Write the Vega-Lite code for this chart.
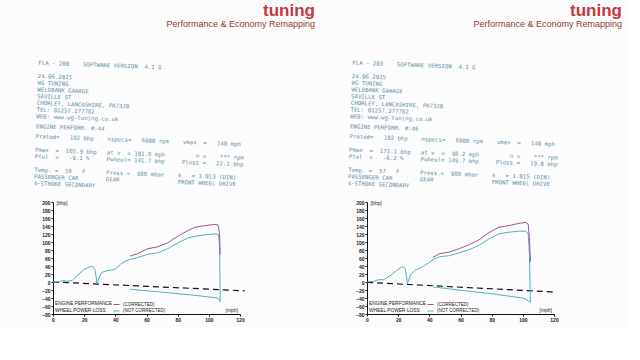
{
  "$schema": "https://vega.github.io/schema/vega-lite/v6.json",
  "background": "#fcfcfc",
  "padding": {"left": 33, "top": 1, "right": 5, "bottom": 5},
  "columns": 2,
  "spacing": {"row": 166, "column": 52},
  "bounds": "flush",
  "align": "each",
  "datasets": {
    "dyno": [
      {"s":"L","series":"(NOT CORRECTED)","mph":0,"bhp":0},
      {"s":"L","series":"(NOT CORRECTED)","mph":4.7,"bhp":1.6},
      {"s":"L","series":"(NOT CORRECTED)","mph":6.9,"bhp":4},
      {"s":"L","series":"(NOT CORRECTED)","mph":9,"bhp":1.6},
      {"s":"L","series":"(NOT CORRECTED)","mph":12.3,"bhp":4},
      {"s":"L","series":"(NOT CORRECTED)","mph":15.5,"bhp":16},
      {"s":"L","series":"(NOT CORRECTED)","mph":19.8,"bhp":31},
      {"s":"L","series":"(NOT CORRECTED)","mph":24.1,"bhp":39},
      {"s":"L","series":"(NOT CORRECTED)","mph":25.8,"bhp":38},
      {"s":"L","series":"(NOT CORRECTED)","mph":26.9,"bhp":31},
      {"s":"L","series":"(NOT CORRECTED)","mph":27.7,"bhp":12},
      {"s":"L","series":"(NOT CORRECTED)","mph":28.2,"bhp":-3},
      {"s":"L","series":"(NOT CORRECTED)","mph":28.8,"bhp":1.6},
      {"s":"L","series":"(NOT CORRECTED)","mph":29.9,"bhp":14.6},
      {"s":"L","series":"(NOT CORRECTED)","mph":31.6,"bhp":24.4},
      {"s":"L","series":"(NOT CORRECTED)","mph":34.8,"bhp":28.5},
      {"s":"L","series":"(NOT CORRECTED)","mph":38.1,"bhp":30},
      {"s":"L","series":"(NOT CORRECTED)","mph":40.2,"bhp":32.5},
      {"s":"L","series":"(NOT CORRECTED)","mph":43.4,"bhp":44.7},
      {"s":"L","series":"(NOT CORRECTED)","mph":46.7,"bhp":52.8},
      {"s":"L","series":"(NOT CORRECTED)","mph":49.9,"bhp":57},
      {"s":"L","series":"(NOT CORRECTED)","mph":54.2,"bhp":61},
      {"s":"L","series":"(NOT CORRECTED)","mph":60.6,"bhp":69},
      {"s":"L","series":"(NOT CORRECTED)","mph":67.1,"bhp":73},
      {"s":"L","series":"(NOT CORRECTED)","mph":73.5,"bhp":83},
      {"s":"L","series":"(NOT CORRECTED)","mph":80,"bhp":97.6},
      {"s":"L","series":"(NOT CORRECTED)","mph":86.5,"bhp":110},
      {"s":"L","series":"(NOT CORRECTED)","mph":92.9,"bhp":115.4},
      {"s":"L","series":"(NOT CORRECTED)","mph":99.4,"bhp":118.7},
      {"s":"L","series":"(NOT CORRECTED)","mph":104.7,"bhp":120.3},
      {"s":"L","series":"(NOT CORRECTED)","mph":106.2,"bhp":118},
      {"s":"L","series":"(NOT CORRECTED)","mph":106.9,"bhp":89},
      {"s":"L","series":"(NOT CORRECTED)","mph":107.3,"bhp":-49},
      {"s":"L","series":"(CORRECTED)","mph":49.5,"bhp":65},
      {"s":"L","series":"(CORRECTED)","mph":54.2,"bhp":70.7},
      {"s":"L","series":"(CORRECTED)","mph":60.6,"bhp":83},
      {"s":"L","series":"(CORRECTED)","mph":67.1,"bhp":88},
      {"s":"L","series":"(CORRECTED)","mph":73.5,"bhp":97.6},
      {"s":"L","series":"(CORRECTED)","mph":80,"bhp":114},
      {"s":"L","series":"(CORRECTED)","mph":86.5,"bhp":128.5},
      {"s":"L","series":"(CORRECTED)","mph":90.8,"bhp":136.6},
      {"s":"L","series":"(CORRECTED)","mph":97.2,"bhp":140.7},
      {"s":"L","series":"(CORRECTED)","mph":103.7,"bhp":144},
      {"s":"L","series":"(CORRECTED)","mph":105.8,"bhp":143},
      {"s":"L","series":"(CORRECTED)","mph":106.9,"bhp":122},
      {"s":"L","series":"(CORRECTED)","mph":107.3,"bhp":69},
      {"s":"L","series":"LOSS","mph":49.5,"bhp":-18},
      {"s":"L","series":"LOSS","mph":71.4,"bhp":-26},
      {"s":"L","series":"LOSS","mph":92.9,"bhp":-34},
      {"s":"L","series":"LOSS","mph":105.8,"bhp":-40.5},
      {"s":"L","series":"LOSS","mph":107.3,"bhp":-49},
      {"s":"L","series":"BASE","mph":0,"bhp":0},
      {"s":"L","series":"BASE","mph":123,"bhp":-22},
      {"s":"R","series":"(NOT CORRECTED)","mph":0,"bhp":0},
      {"s":"R","series":"(NOT CORRECTED)","mph":4.2,"bhp":1.6},
      {"s":"R","series":"(NOT CORRECTED)","mph":7.4,"bhp":5.7},
      {"s":"R","series":"(NOT CORRECTED)","mph":10.6,"bhp":5.7},
      {"s":"R","series":"(NOT CORRECTED)","mph":14.8,"bhp":15.6},
      {"s":"R","series":"(NOT CORRECTED)","mph":19,"bhp":28.7},
      {"s":"R","series":"(NOT CORRECTED)","mph":22.2,"bhp":37},
      {"s":"R","series":"(NOT CORRECTED)","mph":23.3,"bhp":38.5},
      {"s":"R","series":"(NOT CORRECTED)","mph":24.4,"bhp":34},
      {"s":"R","series":"(NOT CORRECTED)","mph":25.4,"bhp":14},
      {"s":"R","series":"(NOT CORRECTED)","mph":25.8,"bhp":-4},
      {"s":"R","series":"(NOT CORRECTED)","mph":26.5,"bhp":1.6},
      {"s":"R","series":"(NOT CORRECTED)","mph":28,"bhp":18},
      {"s":"R","series":"(NOT CORRECTED)","mph":30.7,"bhp":28.7},
      {"s":"R","series":"(NOT CORRECTED)","mph":35,"bhp":37},
      {"s":"R","series":"(NOT CORRECTED)","mph":39.2,"bhp":46.7},
      {"s":"R","series":"(NOT CORRECTED)","mph":42.4,"bhp":56.5},
      {"s":"R","series":"(NOT CORRECTED)","mph":46.6,"bhp":63},
      {"s":"R","series":"(NOT CORRECTED)","mph":53,"bhp":66},
      {"s":"R","series":"(NOT CORRECTED)","mph":59.3,"bhp":73},
      {"s":"R","series":"(NOT CORRECTED)","mph":65.7,"bhp":81},
      {"s":"R","series":"(NOT CORRECTED)","mph":72,"bhp":92},
      {"s":"R","series":"(NOT CORRECTED)","mph":78.4,"bhp":108},
      {"s":"R","series":"(NOT CORRECTED)","mph":84.7,"bhp":120.5},
      {"s":"R","series":"(NOT CORRECTED)","mph":91.1,"bhp":124.6},
      {"s":"R","series":"(NOT CORRECTED)","mph":97.5,"bhp":127},
      {"s":"R","series":"(NOT CORRECTED)","mph":101.7,"bhp":127},
      {"s":"R","series":"(NOT CORRECTED)","mph":103.4,"bhp":122},
      {"s":"R","series":"(NOT CORRECTED)","mph":104.2,"bhp":71},
      {"s":"R","series":"(NOT CORRECTED)","mph":104.9,"bhp":-50},
      {"s":"R","series":"(CORRECTED)","mph":42.4,"bhp":61.5},
      {"s":"R","series":"(CORRECTED)","mph":46.6,"bhp":71},
      {"s":"R","series":"(CORRECTED)","mph":53,"bhp":75},
      {"s":"R","series":"(CORRECTED)","mph":59.3,"bhp":83.6},
      {"s":"R","series":"(CORRECTED)","mph":65.7,"bhp":93.4},
      {"s":"R","series":"(CORRECTED)","mph":72,"bhp":105.7},
      {"s":"R","series":"(CORRECTED)","mph":78.4,"bhp":123.8},
      {"s":"R","series":"(CORRECTED)","mph":84.7,"bhp":137},
      {"s":"R","series":"(CORRECTED)","mph":91.1,"bhp":141},
      {"s":"R","series":"(CORRECTED)","mph":97.5,"bhp":146.7},
      {"s":"R","series":"(CORRECTED)","mph":102.1,"bhp":149},
      {"s":"R","series":"(CORRECTED)","mph":103.4,"bhp":145},
      {"s":"R","series":"(CORRECTED)","mph":104.2,"bhp":112},
      {"s":"R","series":"(CORRECTED)","mph":104.9,"bhp":51},
      {"s":"R","series":"LOSS","mph":42.4,"bhp":-12.3},
      {"s":"R","series":"LOSS","mph":60,"bhp":-20.5},
      {"s":"R","series":"LOSS","mph":80,"bhp":-29.5},
      {"s":"R","series":"LOSS","mph":100,"bhp":-40},
      {"s":"R","series":"LOSS","mph":104.9,"bhp":-50},
      {"s":"R","series":"BASE","mph":0,"bhp":-1},
      {"s":"R","series":"BASE","mph":120.8,"bhp":-25}
    ]
  },
  "concat": [
    {
      "width": 262, "height": 1,
      "data": {"values": [{"t": ""}]},
      "mark": {"type": "text"},
      "encoding": {"text": {"field": "t"}},
      "title": {"text": "tuning", "subtitle": "Performance & Economy Remapping", "anchor": "end", "frame": "group", "font": "Liberation Sans", "fontSize": 17, "fontWeight": "bold", "color": "#c6363c", "subtitleFont": "Liberation Sans", "subtitleFontSize": 9, "subtitleColor": "#8e3a33", "subtitlePadding": 0, "offset": 0}
    },
    {
      "width": 255, "height": 1,
      "data": {"values": [{"t": ""}]},
      "mark": {"type": "text"},
      "encoding": {"text": {"field": "t"}},
      "title": {"text": "tuning", "subtitle": "Performance & Economy Remapping", "anchor": "end", "frame": "group", "font": "Liberation Sans", "fontSize": 17, "fontWeight": "bold", "color": "#c6363c", "subtitleFont": "Liberation Sans", "subtitleFontSize": 9, "subtitleColor": "#8e3a33", "subtitlePadding": 0, "offset": 0}
    },
    {
      "width": 187, "height": 112,
      "data": {"name": "dyno"},
      "transform": [{"filter": "datum.s == 'L'"}],
      "title": {
        "text": [
          "FLA\u00a0-\u00a0200\u00a0\u00a0\u00a0\u00a0SOFTWARE\u00a0VERSION\u00a0\u00a04.1\u00a0G",
          "\u2800", "\u2800", "\u2800",
          "24.06.2015", "\u2800",
          "WG\u00a0TUNING", "\u2800",
          "WELDBANK\u00a0GARAGE", "\u2800",
          "SAVILLE\u00a0ST", "\u2800",
          "CHORLEY,\u00a0LANCASHIRE,\u00a0PR73JB", "\u2800",
          "TEL:\u00a001257.277782", "\u2800",
          "WEB:\u00a0www.wg-tuning.co.uk", "\u2800", "\u2800",
          "ENGINE\u00a0PERFORM.\u00a0#:44", "\u2800", "\u2800",
          "Prated=\u00a0\u00a0\u00a0182\u00a0bhp\u00a0\u00a0\u00a0\u00a0nspecs=\u00a0\u00a0\u00a06000\u00a0rpm\u00a0\u00a0\u00a0\u00a0vmax\u00a0\u00a0=\u00a0\u00a0\u00a0140\u00a0mph",
          "\u2800", "\u2800", "\u2800",
          "Pmax\u00a0\u00a0=\u00a0\u00a0165.9\u00a0bhp\u00a0\u00a0\u00a0at\u00a0v\u00a0\u00a0=\u00a0101.6\u00a0mph\u00a0\u00a0\u00a0\u00a0\u00a0\u00a0\u00a0\u00a0\u00a0n\u00a0=\u00a0\u00a0\u00a0\u00a0***\u00a0rpm",
          "\u2800",
          "Ptol\u00a0\u00a0=\u00a0\u00a0\u00a0-9.1\u00a0%\u00a0\u00a0\u00a0\u00a0\u00a0Pwheel=\u00a0141.7\u00a0bhp\u00a0\u00a0\u00a0\u00a0\u00a0Ploss\u00a0=\u00a0\u00a0\u00a022.1\u00a0bhp",
          "\u2800", "\u2800", "\u2800",
          "Temp.\u00a0=\u00a0\u00a056\u00a0\u00a0\u00a0F\u00a0\u00a0\u00a0\u00a0\u00a0\u00a0Press.=\u00a0\u00a0988\u00a0mbar\u00a0\u00a0\u00a0\u00a0k\u00a0\u00a0\u00a0=\u00a01.013\u00a0(DIN)",
          "\u2800",
          "PASSENGER\u00a0CAR\u00a0\u00a0\u00a0\u00a0\u00a0\u00a0\u00a0\u00a0GEAR\u00a0\u00a0\u00a0\u00a0\u00a0\u00a0\u00a0\u00a0\u00a0\u00a0\u00a0\u00a0\u00a0\u00a0\u00a0\u00a0\u00a0FRONT\u00a0WHEEL\u00a0DRIVE",
          "\u2800",
          "4-STROKE\u00a0SECONDARY"
        ],
        "anchor": "start", "frame": "bounds", "font": "DejaVu Sans Mono", "fontSize": 5.7, "fontWeight": "normal", "color": "#5b8da3", "lineHeight": 3.35, "angle": 2.2, "offset": 6, "dx": -3
      },
      "encoding": {
        "x": {"field": "mph", "type": "quantitative", "scale": {"domain": [0, 120]},
          "axis": {"values": [0, 20, 40, 60, 80, 100, 120], "labelFlush": false, "labelFontSize": 5, "labelFontWeight": "bold", "labelColor": "#222", "tickSize": 2, "labelPadding": 1, "domainColor": "#111", "tickColor": "#111", "grid": false, "title": "[mph]", "titleX": 172, "titleY": -2, "titleAlign": "left", "titleBaseline": "bottom", "titleFontSize": 5, "titleFontWeight": "normal", "titleColor": "#222"}},
        "y": {"field": "bhp", "type": "quantitative", "scale": {"domain": [-80, 200]},
          "axis": {"values": [-80, -60, -40, -20, 0, 20, 40, 60, 80, 100, 120, 140, 160, 180, 200], "labelFontSize": 5, "labelFontWeight": "bold", "labelColor": "#222", "tickSize": 2, "labelPadding": 1, "domainColor": "#111", "tickColor": "#111", "grid": false, "title": "[bhp]", "titleAngle": 0, "titleX": 3, "titleY": 0, "titleAlign": "left", "titleBaseline": "middle", "titleFontSize": 5, "titleFontWeight": "normal", "titleColor": "#222"}}
      },
      "layer": [
        {"transform": [{"filter": "datum.series == 'BASE'"}], "mark": {"type": "line", "color": "#111", "strokeDash": [6, 4], "strokeWidth": 1.2}},
        {"transform": [{"filter": "datum.series == 'LOSS'"}], "mark": {"type": "line", "color": "#4fb3bb", "strokeWidth": 1}},
        {"transform": [{"filter": "datum.series != 'BASE' && datum.series != 'LOSS'"}], "mark": {"type": "line", "strokeWidth": 1},
          "encoding": {"color": {"field": "series", "type": "nominal", "scale": {"domain": ["(CORRECTED)", "(NOT CORRECTED)"], "range": ["#a3528f", "#4fb3bb"]},
            "legend": {"orient": "none", "legendX": 2, "legendY": 99, "title": ["ENGINE PERFORMANCE", "WHEEL POWER-LOSS"], "titleOrient": "left", "titleFontSize": 4.8, "titleFontWeight": "normal", "titleColor": "#222", "titleLineHeight": 7, "titlePadding": 0, "labelFontSize": 4.5, "labelColor": "#222", "symbolType": "stroke", "symbolSize": 36, "symbolStrokeWidth": 1, "rowPadding": 0.5, "labelOffset": 3, "padding": 0}}}}
      ]
    },
    {
      "width": 187, "height": 112,
      "data": {"name": "dyno"},
      "transform": [{"filter": "datum.s == 'R'"}],
      "title": {
        "text": [
          "FLA\u00a0-\u00a0203\u00a0\u00a0\u00a0\u00a0SOFTWARE\u00a0VERSION\u00a0\u00a04.1\u00a0G",
          "\u2800", "\u2800", "\u2800",
          "24.06.2015", "\u2800",
          "WG\u00a0TUNING", "\u2800",
          "WELDBANK\u00a0GARAGE", "\u2800",
          "SAVILLE\u00a0ST", "\u2800",
          "CHORLEY,\u00a0LANCASHIRE,\u00a0PR73JB", "\u2800",
          "TEL:\u00a001257.277782", "\u2800",
          "WEB:\u00a0www.wg-tuning.co.uk", "\u2800", "\u2800",
          "ENGINE\u00a0PERFORM.\u00a0#:46", "\u2800", "\u2800",
          "Prated=\u00a0\u00a0\u00a0182\u00a0bhp\u00a0\u00a0\u00a0\u00a0nspecs=\u00a0\u00a0\u00a06000\u00a0rpm\u00a0\u00a0\u00a0\u00a0vmax\u00a0\u00a0=\u00a0\u00a0\u00a0140\u00a0mph",
          "\u2800", "\u2800", "\u2800",
          "Pmax\u00a0\u00a0=\u00a0\u00a0171.1\u00a0bhp\u00a0\u00a0\u00a0at\u00a0v\u00a0\u00a0=\u00a0\u00a098.2\u00a0mph\u00a0\u00a0\u00a0\u00a0\u00a0\u00a0\u00a0\u00a0\u00a0n\u00a0=\u00a0\u00a0\u00a0\u00a0***\u00a0rpm",
          "\u2800",
          "Ptol\u00a0\u00a0=\u00a0\u00a0\u00a0-6.2\u00a0%\u00a0\u00a0\u00a0\u00a0\u00a0Pwheel=\u00a0149.7\u00a0bhp\u00a0\u00a0\u00a0\u00a0\u00a0Ploss\u00a0=\u00a0\u00a0\u00a019.0\u00a0bhp",
          "\u2800", "\u2800", "\u2800",
          "Temp.\u00a0=\u00a0\u00a057\u00a0\u00a0\u00a0F\u00a0\u00a0\u00a0\u00a0\u00a0\u00a0Press.=\u00a0\u00a0988\u00a0mbar\u00a0\u00a0\u00a0\u00a0k\u00a0\u00a0\u00a0=\u00a01.015\u00a0(DIN)",
          "\u2800",
          "PASSENGER\u00a0CAR\u00a0\u00a0\u00a0\u00a0\u00a0\u00a0\u00a0\u00a0GEAR\u00a0\u00a0\u00a0\u00a0\u00a0\u00a0\u00a0\u00a0\u00a0\u00a0\u00a0\u00a0\u00a0\u00a0\u00a0\u00a0\u00a0FRONT\u00a0WHEEL\u00a0DRIVE",
          "\u2800",
          "4-STROKE\u00a0SECONDARY"
        ],
        "anchor": "start", "frame": "bounds", "font": "DejaVu Sans Mono", "fontSize": 5.7, "fontWeight": "normal", "color": "#5b8da3", "lineHeight": 3.35, "angle": 2.2, "offset": 6, "dx": -3
      },
      "encoding": {
        "x": {"field": "mph", "type": "quantitative", "scale": {"domain": [0, 120]},
          "axis": {"values": [0, 20, 40, 60, 80, 100, 120], "labelFlush": false, "labelFontSize": 5, "labelFontWeight": "bold", "labelColor": "#222", "tickSize": 2, "labelPadding": 1, "domainColor": "#111", "tickColor": "#111", "grid": false, "title": "[mph]", "titleX": 172, "titleY": -2, "titleAlign": "left", "titleBaseline": "bottom", "titleFontSize": 5, "titleFontWeight": "normal", "titleColor": "#222"}},
        "y": {"field": "bhp", "type": "quantitative", "scale": {"domain": [-80, 200]},
          "axis": {"values": [-80, -60, -40, -20, 0, 20, 40, 60, 80, 100, 120, 140, 160, 180, 200], "labelFontSize": 5, "labelFontWeight": "bold", "labelColor": "#222", "tickSize": 2, "labelPadding": 1, "domainColor": "#111", "tickColor": "#111", "grid": false, "title": "[bhp]", "titleAngle": 0, "titleX": 3, "titleY": 0, "titleAlign": "left", "titleBaseline": "middle", "titleFontSize": 5, "titleFontWeight": "normal", "titleColor": "#222"}}
      },
      "layer": [
        {"transform": [{"filter": "datum.series == 'BASE'"}], "mark": {"type": "line", "color": "#111", "strokeDash": [6, 4], "strokeWidth": 1.2}},
        {"transform": [{"filter": "datum.series == 'LOSS'"}], "mark": {"type": "line", "color": "#4fb3bb", "strokeWidth": 1}},
        {"transform": [{"filter": "datum.series != 'BASE' && datum.series != 'LOSS'"}], "mark": {"type": "line", "strokeWidth": 1},
          "encoding": {"color": {"field": "series", "type": "nominal", "scale": {"domain": ["(CORRECTED)", "(NOT CORRECTED)"], "range": ["#a3528f", "#4fb3bb"]},
            "legend": {"orient": "none", "legendX": 2, "legendY": 99, "title": ["ENGINE PERFORMANCE", "WHEEL POWER-LOSS"], "titleOrient": "left", "titleFontSize": 4.8, "titleFontWeight": "normal", "titleColor": "#222", "titleLineHeight": 7, "titlePadding": 0, "labelFontSize": 4.5, "labelColor": "#222", "symbolType": "stroke", "symbolSize": 36, "symbolStrokeWidth": 1, "rowPadding": 0.5, "labelOffset": 3, "padding": 0}}}}
      ]
    }
  ],
  "resolve": {"scale": {"color": "independent"}},
  "config": {
    "view": {"stroke": null},
    "font": "Liberation Sans",
    "axis": {"grid": false}
  }
}
